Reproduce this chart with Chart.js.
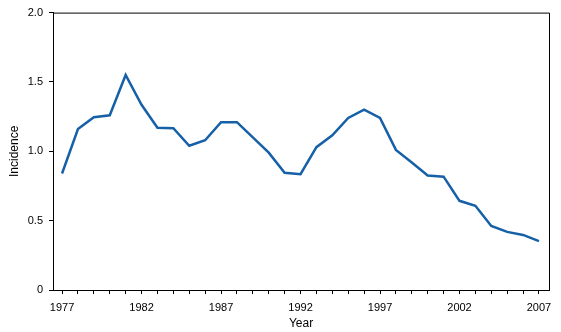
<!DOCTYPE html>
<html>
<head>
<meta charset="utf-8">
<style>
  html, body { margin: 0; padding: 0; background: #fff; }
  #wrap { width: 561px; height: 332px; }
</style>
</head>
<body>
<div id="wrap"><canvas id="incidenceChart" width="561" height="332"></canvas></div>
<script src="https://cdn.jsdelivr.net/npm/chart.js@4"></script>
<script>
  const years = [1977, 1978, 1979, 1980, 1981, 1982, 1983, 1984, 1985, 1986,
                 1987, 1988, 1989, 1990, 1991, 1992, 1993, 1994, 1995, 1996,
                 1997, 1998, 1999, 2000, 2001, 2002, 2003, 2004, 2005, 2006, 2007];
  const incidence = [0.84, 1.16, 1.245, 1.26, 1.55, 1.335, 1.17, 1.167, 1.04, 1.08,
                     1.21, 1.21, 1.10, 0.99, 0.845, 0.835, 1.03, 1.115, 1.24, 1.30,
                     1.24, 1.01, 0.92, 0.826, 0.817, 0.643, 0.607, 0.462, 0.419, 0.397, 0.352];
  const labelYears = [1977, 1982, 1987, 1992, 1997, 2002, 2007];
  const yTicks = [0, 0.5, 1.0, 1.5, 2.0];

  const boxPlugin = {
    id: 'box',
    afterDraw(chart) {
      const a = chart.chartArea;
      const c = chart.ctx;
      c.save();
      c.strokeStyle = '#000';
      c.lineWidth = 1;
      c.beginPath();
      c.moveTo(a.left, a.top + 0.5);
      c.lineTo(a.right + 0.5, a.top + 0.5);
      c.lineTo(a.right + 0.5, a.bottom);
      c.stroke();
      c.restore();
    }
  };

  const ctx = document.getElementById('incidenceChart').getContext('2d');
  new Chart(ctx, {
    type: 'line',
    data: {
      datasets: [{
        label: 'Incidence',
        data: years.map((y, i) => ({ x: y, y: incidence[i] })),
        borderColor: '#1660a8',
        borderWidth: 2.5,
        pointRadius: 0,
        tension: 0,
        fill: false
      }]
    },
    options: {
      responsive: false,
      animation: false,
      layout: { padding: { left: 0, right: 12, top: 8, bottom: 0 } },
      plugins: { legend: { display: false }, tooltip: { enabled: false } },
      scales: {
        x: {
          type: 'linear',
          min: 1976.43,
          max: 2007.63,
          afterBuildTicks(scale) {
            scale.ticks = years.map(v => ({ value: v }));
          },
          afterFit(scale) { scale.height = 42; },
          ticks: {
            autoSkip: false,
            maxRotation: 0,
            padding: 7,
            color: '#000',
            font: { family: '"Liberation Sans", Arial, sans-serif', size: 11 },
            callback: v => labelYears.includes(v) ? String(v) : ''
          },
          grid: { drawOnChartArea: false, drawTicks: true, tickLength: 4, color: '#000' },
          border: { display: true, color: '#000', width: 1 },
          title: {
            display: true,
            text: 'Year',
            color: '#000',
            padding: { top: 0, bottom: 1 },
            font: { family: '"Liberation Sans", Arial, sans-serif', size: 12 }
          }
        },
        y: {
          min: 0,
          max: 2,
          afterBuildTicks(scale) {
            scale.ticks = yTicks.map(v => ({ value: v }));
          },
          afterFit(scale) { scale.width = 53; },
          ticks: {
            padding: 6,
            color: '#000',
            font: { family: '"Liberation Sans", Arial, sans-serif', size: 11 },
            callback: v => v === 0 ? '0' : v.toFixed(1)
          },
          grid: { drawOnChartArea: false, drawTicks: true, tickLength: 4, color: '#000' },
          border: { display: true, color: '#000', width: 1 },
          title: {
            display: true,
            text: 'Incidence',
            color: '#000',
            padding: { top: 7, bottom: 0 },
            font: { family: '"Liberation Sans", Arial, sans-serif', size: 12 }
          }
        }
      }
    },
    plugins: [boxPlugin]
  });
</script>
</body>
</html>
